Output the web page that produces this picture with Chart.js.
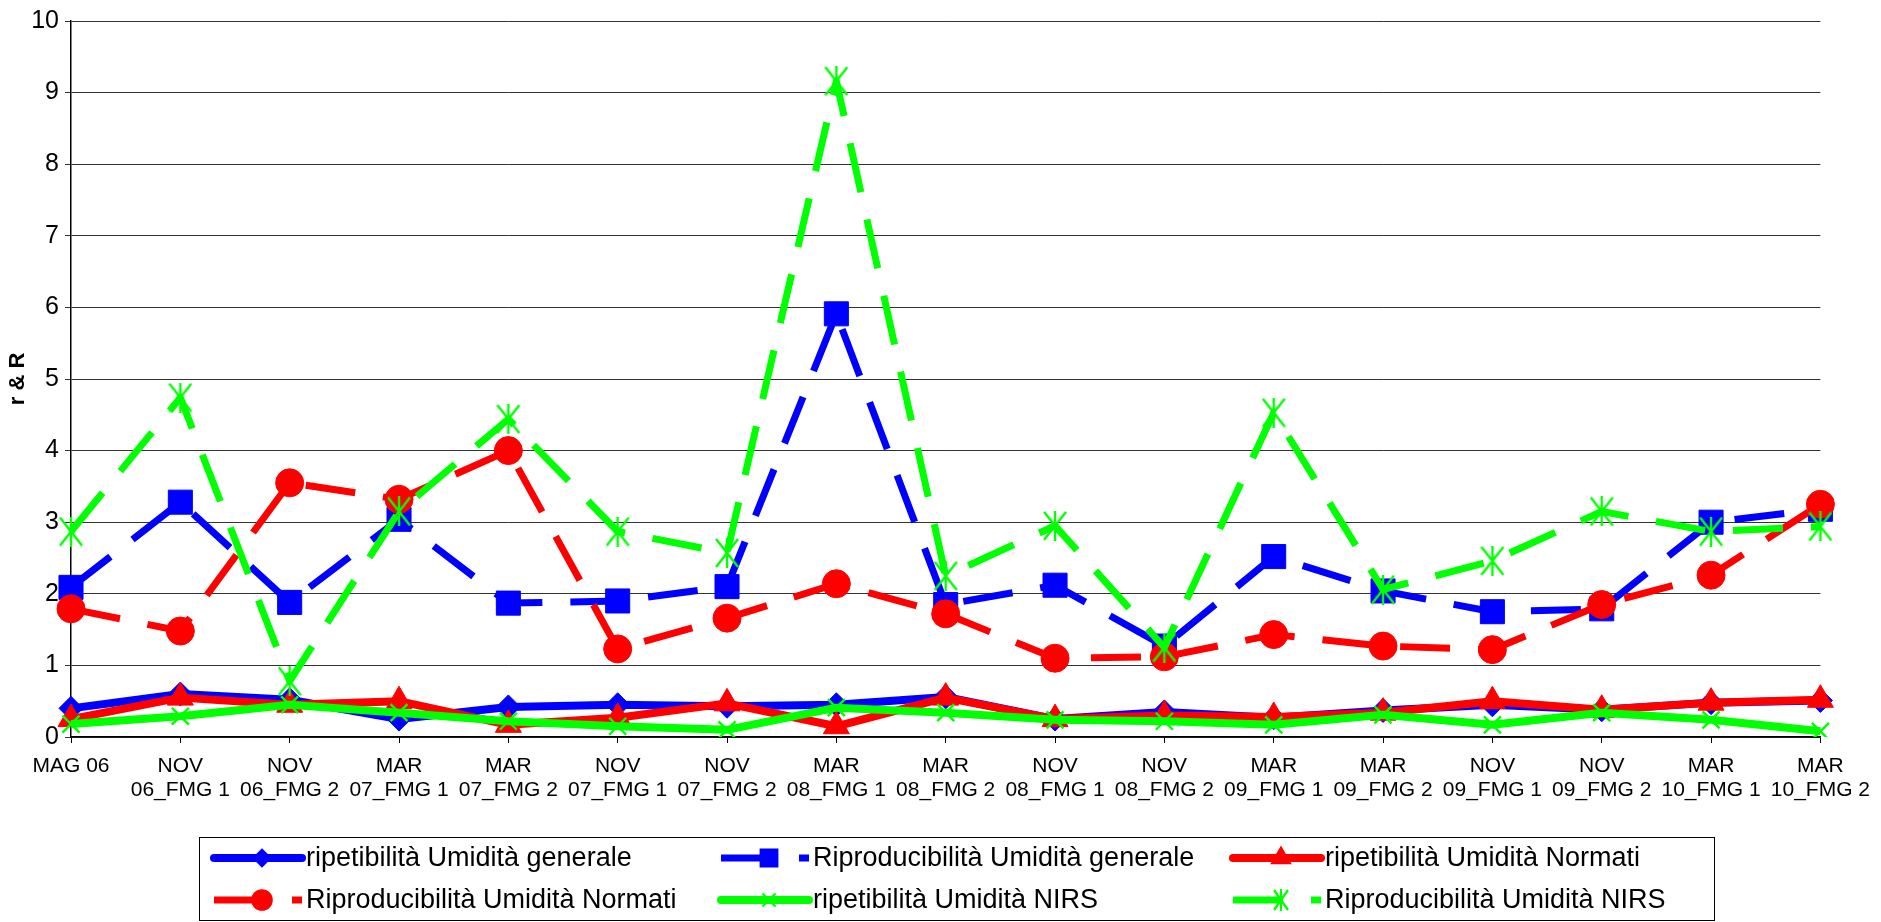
<!DOCTYPE html>
<html>
<head>
<meta charset="utf-8">
<script src="https://cdn.jsdelivr.net/npm/chart.js@4.4.1/dist/chart.umd.min.js"></script>
<style>
  html, body { margin: 0; padding: 0; background: #fff; }
  canvas { display: block; }
</style>
</head>
<body>
<canvas id="chart" width="1881" height="922"></canvas>
<script>
// categorie (asse x)
const categories = [
    'MAG 06',
    ['NOV', '06_FMG 1'], ['NOV', '06_FMG 2'],
    ['MAR', '07_FMG 1'], ['MAR', '07_FMG 2'],
    ['NOV', '07_FMG 1'], ['NOV', '07_FMG 2'],
    ['MAR', '08_FMG 1'], ['MAR', '08_FMG 2'],
    ['NOV', '08_FMG 1'], ['NOV', '08_FMG 2'],
    ['MAR', '09_FMG 1'], ['MAR', '09_FMG 2'],
    ['NOV', '09_FMG 1'], ['NOV', '09_FMG 2'],
    ['MAR', '10_FMG 1'], ['MAR', '10_FMG 2']
];

// valori
const ripGenerale  = [0.40, 0.60, 0.52, 0.25, 0.42, 0.45, 0.43, 0.45, 0.56, 0.25, 0.35, 0.27, 0.37, 0.45, 0.38, 0.48, 0.51];
const ripbGenerale = [2.09, 3.28, 1.88, 3.04, 1.87, 1.90, 2.10, 5.91, 1.85, 2.12, 1.27, 2.52, 2.04, 1.75, 1.79, 3.00, 3.18];
const ripNormati   = [0.25, 0.55, 0.45, 0.50, 0.17, 0.27, 0.47, 0.15, 0.55, 0.25, 0.30, 0.28, 0.34, 0.50, 0.38, 0.48, 0.52];
const ripbNormati  = [1.79, 1.48, 3.55, 3.32, 4.00, 1.23, 1.66, 2.14, 1.72, 1.10, 1.12, 1.43, 1.27, 1.22, 1.85, 2.26, 3.25];
const ripNirs      = [0.18, 0.29, 0.45, 0.34, 0.22, 0.15, 0.10, 0.41, 0.34, 0.24, 0.22, 0.17, 0.31, 0.17, 0.34, 0.24, 0.08];
const ripbNirs     = [2.87, 4.74, 0.78, 3.15, 4.44, 2.87, 2.57, 9.16, 2.25, 2.95, 1.25, 4.53, 2.06, 2.46, 3.15, 2.87, 2.94];

const yTicks = [0, 1, 2, 3, 4, 5, 6, 7, 8, 9, 10];

const FONT = '"Liberation Sans", Arial, sans-serif';
const BLUE = '#0000FF', RED = '#FF0000', GREEN = '#00FF00';
const DASH = [50, 28];

// marcatore asterisco (X + barra verticale)
function makeAsterisk(w, h, color, lw) {
    const c = document.createElement('canvas');
    c.width = w; c.height = h;
    const g = c.getContext('2d');
    g.strokeStyle = color;
    g.lineWidth = lw;
    g.beginPath();
    g.moveTo(1, 1); g.lineTo(w - 1, h - 1);
    g.moveTo(w - 1, 1); g.lineTo(1, h - 1);
    g.moveTo(w / 2, 0); g.lineTo(w / 2, h);
    g.stroke();
    return c;
}
const asterisk = makeAsterisk(24, 30, GREEN, 2.4);
const asteriskSmall = makeAsterisk(16, 22, GREEN, 2.2);

const series = [
    { label: 'ripetibilità Umidità generale', data: ripGenerale, color: BLUE, dash: [], style: 'rectRot', r: 12, w: 8 },
    { label: 'Riproducibilità Umidità generale', data: ripbGenerale, color: BLUE, dash: DASH, style: 'rect', r: 17, w: 7 },
    { label: 'ripetibilità Umidità Normati', data: ripNormati, color: RED, dash: [], style: 'triangle', r: 15, w: 8 },
    { label: 'Riproducibilità Umidità Normati', data: ripbNormati, color: RED, dash: DASH, style: 'circle', r: 14, w: 7 },
    { label: 'ripetibilità Umidità NIRS', data: ripNirs, color: GREEN, dash: [], style: 'crossRot', r: 12, w: 8 },
    { label: 'Riproducibilità Umidità NIRS', data: ripbNirs, color: GREEN, dash: DASH, style: asterisk, r: 15, w: 7 }
];

// legenda disegnata a mano (linea + marcatore, riquadro)
const boxLegend = {
    id: 'boxLegend',
    afterDraw(chart) {
        const ctx = chart.ctx;
        ctx.save();
        ctx.strokeStyle = '#000';
        ctx.lineWidth = 1;
        ctx.strokeRect(199.5, 837.5, 1515, 83);

        const cols = [214, 721, 1233];
        const rows = [858, 900];
        ctx.font = '27px ' + FONT;
        ctx.textBaseline = 'middle';
        ctx.textAlign = 'left';
        series.forEach((s, i) => {
            const x = cols[i % 3], y = rows[Math.floor(i / 3)];
            ctx.strokeStyle = s.color;
            ctx.fillStyle = s.color;
            ctx.lineWidth = s.w;
            ctx.lineCap = s.dash.length ? 'butt' : 'round';
            ctx.setLineDash(s.dash);
            ctx.beginPath();
            ctx.moveTo(x, y);
            ctx.lineTo(x + 88, y);
            ctx.stroke();
            ctx.setLineDash([]);
            ctx.lineWidth = 2;
            Chart.helpers.drawPoint(ctx, {
                pointStyle: s.style === asterisk ? asteriskSmall : s.style,
                radius: s.r * 0.7,
                rotation: 0,
                borderWidth: 2
            }, x + 48, y);
            ctx.fillStyle = '#000';
            ctx.fillText(s.label, x + 92, y + 1);
        });
        ctx.restore();
    }
};

new Chart(document.getElementById('chart'), {
    type: 'line',
    data: {
        labels: categories,
        datasets: series.map((s, i) => ({
            label: s.label,
            data: s.data,
            order: series.length - i,
            borderColor: s.color,
            backgroundColor: s.color,
            borderWidth: s.w,
            borderDash: s.dash,
            borderCapStyle: 'butt',
            borderJoinStyle: 'round',
            tension: 0,
            pointStyle: s.style,
            pointRadius: s.r,
            pointBorderWidth: s.style === 'crossRot' ? 2.4 : 1,
            pointBorderColor: s.color,
            pointBackgroundColor: s.color
        }))
    },
    options: {
        responsive: false,
        animation: false,
        layout: { padding: { left: 0, right: 52, top: 21, bottom: 85 } },
        plugins: {
            legend: { display: false },
            tooltip: { enabled: false }
        },
        scales: {
            x: {
                offset: false,
                grid: { drawOnChartArea: false, drawTicks: true, tickLength: 6, color: '#000' },
                border: { color: '#000', width: 1.5 },
                ticks: {
                    color: '#000',
                    font: { family: FONT, size: 21, lineHeight: 1.15 },
                    padding: 11,
                    maxRotation: 0,
                    autoSkip: false
                },
                afterFit(scale) { scale.height = 100; }
            },
            y: {
                min: 0,
                max: 10,
                afterBuildTicks(scale) { scale.ticks = yTicks.map(v => ({ value: v })); },
                grid: { color: '#333', lineWidth: 1, tickLength: 6, drawTicks: true },
                border: { color: '#000', width: 1.5 },
                ticks: {
                    color: '#000',
                    font: { family: FONT, size: 25 },
                    padding: 6
                },
                title: {
                    display: true,
                    text: 'r & R',
                    color: '#000',
                    font: { family: FONT, size: 22, weight: 'bold' },
                    padding: { top: 5, bottom: 0 }
                },
                afterFit(scale) { scale.width = 71; }
            }
        }
    },
    plugins: [boxLegend]
});
</script>
</body>
</html>
